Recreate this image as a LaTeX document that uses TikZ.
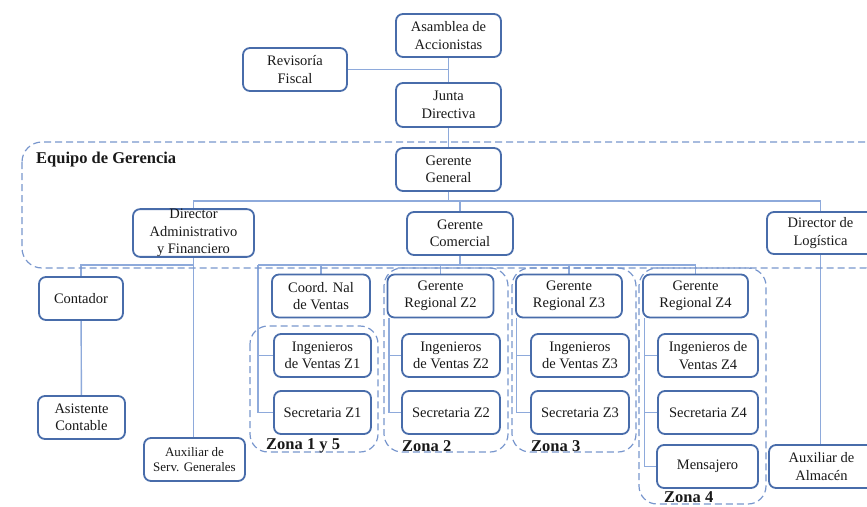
\documentclass[tikz,border=0pt]{standalone}
\usepackage{fontspec}
\setmainfont{Liberation Serif}
\usetikzlibrary{backgrounds}
\definecolor{boxblue}{RGB}{72,108,170}
\definecolor{linkblue}{RGB}{142,170,219}
\definecolor{zoneblue}{RGB}{120,150,205}
\definecolor{ink}{RGB}{25,25,25}
\begin{document}
\begin{tikzpicture}[x=1pt,y=-1pt,
  unit/.style={draw=boxblue, line width=1.8pt, rounded corners=7pt, fill=white,
    align=center, inner sep=0pt, text=ink,
    font=\fontsize{14.5}{17.5}\selectfont},
  smallunit/.style={unit, font=\fontsize{13}{15.7}\selectfont},
  zone/.style={draw=zoneblue, line width=1.2pt, dash pattern=on 7pt off 4pt, rounded corners=18pt},
  link/.style={draw=linkblue, line width=1.4pt},
  zonelabel/.style={anchor=west, inner sep=0pt, text=ink, font=\fontsize{16.5}{18}\selectfont\bfseries}]
\useasboundingbox (0,0) rectangle (867,506);
\clip (0,0) rectangle (867,506);

% dashed groupings
\draw[zone, rounded corners=20pt] (22,142) rectangle (885,268);
\draw[zone] (250,326) rectangle (378,452);
\draw[zone] (384,268) rectangle (508,452);
\draw[zone] (512,268) rectangle (636,452);
\draw[zone] (639,268) rectangle (766,504);

\node[zonelabel] (lblequipo) at (36,160) {Equipo de Gerencia};
\node[zonelabel] (lblz1) at (266,446) {Zona 1 y 5};
\node[zonelabel] (lblz2) at (402,446) {Zona 2};
\node[zonelabel] (lblz3) at (531,446) {Zona 3};
\node[zonelabel] (lblz4) at (664,497) {Zona 4};

% boxes
\node[unit, minimum width=105pt, minimum height=43pt] (asamblea) at (448.5,35.5) {Asamblea de\\Accionistas};
\node[unit, minimum width=104pt, minimum height=43pt] (revisoria) at (295,69.5) {Revisoría\\Fiscal};
\node[unit, minimum width=105pt, minimum height=44pt] (junta) at (448.5,105) {Junta\\Directiva};
\node[unit, minimum width=105pt, minimum height=43pt] (gg) at (448.5,169.5) {Gerente\\General};
\node[unit, minimum width=121pt, minimum height=47pt] (dadm) at (193.5,233) {Director\\Administrativo\\y Financiero};
\node[unit, minimum width=106pt, minimum height=43pt] (gc) at (460,233.5) {Gerente\\Comercial};
\node[unit, minimum width=107pt, minimum height=42pt] (dlog) at (820.5,233) {Director de\\Logística};

\node[unit, minimum width=84pt, minimum height=43pt] (contador) at (81,298.5) {Contador};
\node[unit, minimum width=87pt, minimum height=43pt] (asistente) at (81.5,417.5) {Asistente\\Contable};
\node[smallunit, minimum width=101pt, minimum height=43pt] (auxserv) at (194.5,459.5) {Auxiliar de\\Serv. Generales};

\node[unit, minimum width=98pt, minimum height=43pt] (coord) at (321,296) {Coord. Nal\\de Ventas};
\node[unit, minimum width=97pt, minimum height=43pt] (ing1) at (322.5,355.5) {Ingenieros\\de Ventas Z1};
\node[unit, minimum width=97pt, minimum height=43pt] (sec1) at (322.5,412.5) {Secretaria Z1};

\node[unit, minimum width=106pt, minimum height=43pt] (gr2) at (440.5,296) {Gerente\\Regional Z2};
\node[unit, minimum width=98pt, minimum height=43pt] (ing2) at (451,355.5) {Ingenieros\\de Ventas Z2};
\node[unit, minimum width=98pt, minimum height=43pt] (sec2) at (451,412.5) {Secretaria Z2};

\node[unit, minimum width=106pt, minimum height=43pt] (gr3) at (569,296) {Gerente\\Regional Z3};
\node[unit, minimum width=98pt, minimum height=43pt] (ing3) at (580,355.5) {Ingenieros\\de Ventas Z3};
\node[unit, minimum width=98pt, minimum height=43pt] (sec3) at (580,412.5) {Secretaria Z3};

\node[unit, minimum width=105pt, minimum height=43pt] (gr4) at (695.5,296) {Gerente\\Regional Z4};
\node[unit, minimum width=100pt, minimum height=43pt] (ing4) at (708,355.5) {Ingenieros de\\Ventas Z4};
\node[unit, minimum width=100pt, minimum height=43pt] (sec4) at (708,412.5) {Secretaria Z4};
\node[unit, minimum width=101pt, minimum height=43pt] (mens) at (707.5,466.5) {Mensajero};

\node[unit, minimum width=105pt, minimum height=43pt] (auxalm) at (821.5,466.5) {Auxiliar de\\Almacén};

% junction points of the connector buses
\coordinate (topbus) at (448.5,201);
\coordinate (admbus) at (193.5,265);
\coordinate (combus) at (460,265);
\coordinate (z1bus) at (258,265);
\coordinate (z2bus) at (389,0);
\coordinate (z3bus) at (516.7,0);
\coordinate (z4bus) at (644.7,0);

% connectors, drawn beneath the boxes
\begin{scope}[on background layer]
  \draw[link] (asamblea) -- (junta);
  \draw[link] (revisoria.east) -- (revisoria.east -| asamblea.south);
  \draw[link] (junta) -- (gg);
  \draw[link] (gg.south) -- (topbus);
  \draw[link] (dadm.north) |- (topbus) -| (dlog.north);
  \draw[link] (gc.north) -- (gc.north |- topbus);
  % administration branch
  \draw[link] (dadm.south) -- (dadm.south |- auxserv.north);
  \draw[link] (admbus) -| (contador.north);
  \draw[link] (contador) -- (asistente);
  % commercial branch
  \draw[link] (gc.south) -- (combus);
  \draw[link] (z1bus) -- (gr4.north |- combus);
  \draw[link] (coord.north) -- (coord.north |- combus);
  \draw[link] (gr2.north) -- (gr2.north |- combus);
  \draw[link] (gr3.north) -- (gr3.north |- combus);
  \draw[link] (gr4.north) -- (gr4.north |- combus);
  % zone 1 and 5
  \draw[link] (z1bus) |- (sec1.west);
  \draw[link] (z1bus |- ing1.west) -- (ing1.west);
  % zone 2
  \draw[link] (gr2.south -| z2bus) |- (sec2.west);
  \draw[link] (z2bus |- ing2.west) -- (ing2.west);
  % zone 3
  \draw[link] (gr3.south -| z3bus) |- (sec3.west);
  \draw[link] (z3bus |- ing3.west) -- (ing3.west);
  % zone 4
  \draw[link] (gr4.south -| z4bus) |- (mens.west);
  \draw[link] (z4bus |- ing4.west) -- (ing4.west);
  \draw[link] (z4bus |- sec4.west) -- (sec4.west);
  % logistics branch
  \draw[link] (dlog.south) -- (dlog.south |- auxalm.north);
\end{scope}
\end{tikzpicture}
\end{document}
